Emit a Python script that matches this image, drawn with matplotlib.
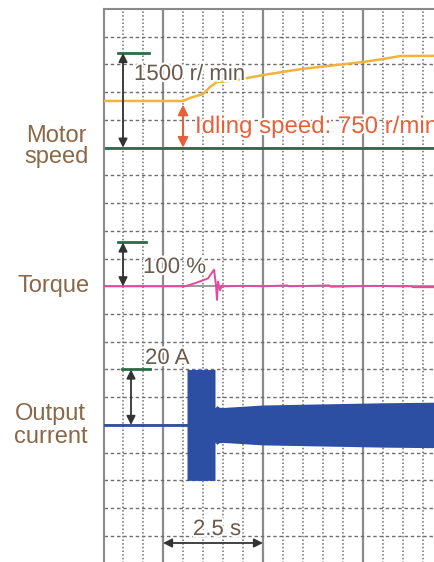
#!/usr/bin/env python3
"""
Scope trace: motor speed, torque and output current at start-up
"""
import numpy as np
import matplotlib
matplotlib.use("Agg")
import matplotlib.pyplot as plt
import matplotlib.patheffects as pe


# time axis in seconds (0.5 s per minor division)
speed_t = [1.025, 3.0, 3.175, 3.5, 3.675, 3.85, 4.35, 5.0, 6.0, 7.5, 8.0, 8.425, 9.275]
speed_rpm = [740, 740, 787, 850, 961, 1040, 1072, 1151, 1250, 1357, 1405, 1452, 1455]

torque_t = [1.025, 3.05, 3.3, 3.625, 3.775, 3.825, 3.85, 3.875, 3.925, 3.975, 4.05,
            4.5, 5.0, 5.6, 5.65, 6.2, 6.65, 6.7, 7.2, 7.8, 8.3, 8.7, 8.75, 9.275]
torque_pct = [0, 0, 7, 18, 38, 2, -31, 11, -9, 2, 0,
              1, 0, 2, 0, 1, 2, -1, 0, 1, 0, 0, -2, -2]

# output current: envelope of the (dense) waveform, peak amps
current_t = [1.025, 3.1, 3.1, 3.8, 3.8, 3.85, 3.9, 4.0, 5.0, 6.5, 8.0, 9.275]
current_amp = [0, 0, 20, 20, 6.2, 7.0, 6.4, 6.3, 7.2, 7.6, 8.0, 8.2]

labels = [("Motor", 56, 142), ("speed", 57, 163), ("Torque", 54, 292),
          ("Output", 50, 420), ("current", 51, 443)]

W, H = 434, 562
plt.rcParams['font.family'] = ['Liberation Sans', 'DejaVu Sans']

fig = plt.figure(figsize=(W / 100, H / 100), dpi=100)
ax = fig.add_axes([104 / W, 1 - 563.6 / H, 330 / W, 554.6 / H])
ax.set_xlim(1.025, 9.275)
ax.set_ylim(0, 20)
ax.set_xticks([])
ax.set_yticks([])
for s in ["bottom", "right"]:
    ax.spines[s].set_visible(False)
for s in ["top", "left"]:
    ax.spines[s].set_color("#8a8a8a")
    ax.spines[s].set_linewidth(1.5)

# scope grid
for x in np.arange(1.5, 9.3, 0.5):
    if abs(x / 2.5 - round(x / 2.5)) < 1e-6:
        ax.axvline(x, color="#8a8a8a", lw=1.6, zorder=1)
    else:
        ax.axvline(x, color="#6f6f6f", lw=1.1, ls=(0, (1, 1.4)), zorder=1)
for y in range(1, 20):
    if y % 5 == 0:
        ax.axhline(y, color="#9a9a9a", lw=1.4, zorder=1)
    else:
        ax.axhline(y, color="#6f6f6f", lw=1.0, ls=(0, (2.5, 2)), zorder=1)

# channel zero levels / scales (divisions)
spd0, spd_scale = 15, 3.413 / 1500
trq0, trq_scale = 10, 1.58 / 100
cur0, cur_scale = 5, 2.0 / 20

green = "#2e6b48"
ax.axhline(spd0, color=green, lw=2, zorder=2)

# traces
ax.plot(speed_t, spd0 + np.array(speed_rpm) * spd_scale, color="#f2b33d", lw=1.8, zorder=4)
ax.plot(torque_t, trq0 + np.array(torque_pct) * trq_scale, color="#e24a9f", lw=1.4, zorder=4)
amp = np.array(current_amp) * cur_scale
blue = "#2d4fa3"
ax.fill_between(current_t, cur0 - amp, cur0 + amp, color=blue, lw=0, zorder=4)
ax.plot([current_t[0], current_t[1]], [cur0, cur0], color=blue, lw=2, zorder=4)

# scale markers
ax.plot([1.375, 2.15], [spd0 + 1500 * spd_scale] * 2, color=green, lw=2, zorder=5)
ax.plot([1.375, 2.075], [trq0 + 100 * trq_scale] * 2, color=green, lw=2, zorder=5)
ax.plot([1.475, 2.175], [cur0 + 20 * cur_scale] * 2, color=green, lw=2, zorder=5)

arr = dict(arrowstyle="<|-|>", color="#333333", lw=1.3, mutation_scale=13, shrinkA=0, shrinkB=0)
ax.annotate("", xy=(1.5, spd0), xytext=(1.5, spd0 + 1500 * spd_scale), arrowprops=arr, zorder=6)
ax.annotate("", xy=(1.5, trq0), xytext=(1.5, trq0 + 100 * trq_scale), arrowprops=arr, zorder=6)
ax.annotate("", xy=(1.7, cur0), xytext=(1.7, cur0 + 20 * cur_scale), arrowprops=arr, zorder=6)
ax.annotate("", xy=(2.5, 0.743), xytext=(5.0, 0.743), arrowprops=arr, zorder=6)
red = "#e8603a"
ax.annotate("", xy=(3.0, spd0), xytext=(3.0, 16.55),
            arrowprops=dict(arr, color=red, lw=1.5, mutation_scale=15), zorder=6)

halo = [pe.withStroke(linewidth=3, foreground="white")]
tc = "#6a5a4c"
ax.text(1.775, 17.44, "1500 r/ min", fontsize=16, color=tc, va="baseline", path_effects=halo, zorder=7)
ax.text(3.3, 15.53, "Idling speed: 750 r/min", fontsize=17.3, color=red, va="baseline",
        path_effects=halo, zorder=7, clip_on=False)
ax.text(2.0, 10.48, "100 %", fontsize=16, color=tc, va="baseline", path_effects=halo, zorder=7)
ax.text(2.05, 7.20, "20 A", fontsize=16, color=tc, va="baseline", path_effects=halo, zorder=7)
ax.text(3.85, 1.03, "2.5 s", fontsize=16, color=tc, va="baseline", ha="center",
        path_effects=halo, zorder=7)

for txt, px, py in labels:
    fig.text(px / W, 1 - py / H, txt, fontsize=17, color="#8a6846", ha="center", va="baseline")

fig.savefig("out.png", dpi=100)
